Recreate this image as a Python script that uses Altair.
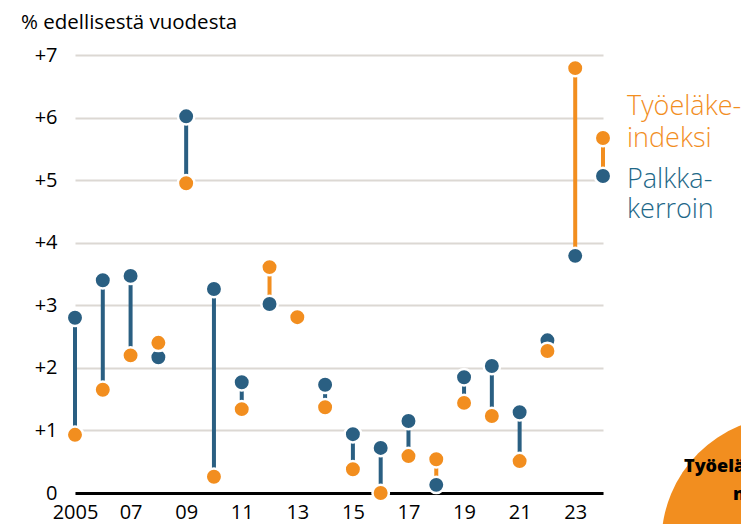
import altair as alt
import pandas as pd

years = list(range(2005, 2024))
tyoelake = [0.93, 1.65, 2.20, 2.40, 4.95, 0.26, 1.34, 3.61, 2.81, 1.37, 0.38, 0.00,
            0.59, 0.54, 1.44, 1.23, 0.51, 2.27, 6.79]
palkka = [2.80, 3.40, 3.47, 2.17, 6.02, 3.26, 1.77, 3.02, 2.81, 1.73, 0.94, 0.72,
          1.15, 0.13, 1.85, 2.03, 1.29, 2.44, 3.79]
series_names = ["Työeläkeindeksi", "Palkkakerroin"]
tick_years = list(range(2005, 2024, 2))
y_ticks = list(range(0, 8))

ORANGE = "#F28E1F"
BLUE = "#2A5F82"
TEXT_BLUE = "#1E6888"
FONT = "Open Sans"
PSIZE = 270

wide = pd.DataFrame({"year": years, "tyo": tyoelake, "palk": palkka})
wide["lo"] = wide[["tyo", "palk"]].min(axis=1)
wide["hi"] = wide[["tyo", "palk"]].max(axis=1)
wide["upper"] = [series_names[0] if t > p else series_names[1] for t, p in zip(tyoelake, palkka)]

long_blue = pd.DataFrame({"year": years, "value": palkka, "series": series_names[1]})
long_orange = pd.DataFrame({"year": years, "value": tyoelake, "series": series_names[0]})

xscale = alt.Scale(domain=[2005, 2024], nice=False, zero=False)
yscale = alt.Scale(domain=[0, 7], nice=False)
cscale = alt.Scale(domain=series_names, range=[ORANGE, BLUE])

xaxis = alt.Axis(values=tick_years, grid=False, ticks=False, domain=True,
                 domainColor="black", domainWidth=3, labelPadding=9,
                 labelFontSize=20, labelFont=FONT, labelColor="black",
                 labelOverlap=False, labelFlush=False,
                 labelExpr="datum.value == 2005 ? '2005' : slice(toString(datum.value), 2)",
                 title=None)
yaxis = alt.Axis(values=y_ticks, grid=True, gridColor="#dcd8d3", gridWidth=2,
                 ticks=False, domain=False, labelPadding=18, labelFontSize=20,
                 labelFont=FONT, labelColor="black", labelOverlap=False,
                 labelExpr="datum.value > 0 ? '+' + datum.value : '0'", title=None)

X = alt.X("year:Q", scale=xscale, axis=xaxis)

rules = alt.Chart(wide).mark_rule(strokeWidth=4).encode(
    x=X,
    y=alt.Y("lo:Q", scale=yscale, axis=yaxis),
    y2="hi:Q",
    color=alt.Color("upper:N", scale=cscale, legend=None),
)

def pts(df):
    return alt.Chart(df).mark_point(filled=True, size=PSIZE, opacity=1,
                                     stroke="white", strokeWidth=2.5, shape="circle").encode(
        x=X,
        y=alt.Y("value:Q", scale=yscale, axis=yaxis),
        fill=alt.Color("series:N", scale=cscale, legend=None),
    )

one = pd.DataFrame({"k": [0]})

def txt(s, x, y, size, color, weight="normal", align="left"):
    return alt.Chart(one).mark_text(text=s, align=align, baseline="alphabetic",
                                    fontSize=size, font=FONT, fontWeight=weight,
                                    color=color).encode(x=alt.value(x), y=alt.value(y))

title = txt("% edellisestä vuodesta", -54, -26, 20.5, "black")

leg_rule = alt.Chart(one).mark_rule(strokeWidth=4, color=ORANGE).encode(
    x=alt.value(528), y=alt.value(83), y2=alt.value(121))
leg_o = alt.Chart(one).mark_point(filled=True, size=PSIZE, opacity=1, stroke="white",
                                  strokeWidth=2.5, fill=ORANGE, shape="circle").encode(
    x=alt.value(528), y=alt.value(83))
leg_b = alt.Chart(one).mark_point(filled=True, size=PSIZE, opacity=1, stroke="white",
                                  strokeWidth=2.5, fill=BLUE, shape="circle").encode(
    x=alt.value(528), y=alt.value(121))
l1 = txt("Työeläke-", 552, 60, 27, ORANGE, weight=300)
l2 = txt("indeksi", 552, 92, 27, ORANGE, weight=300)
l3 = txt("Palkka-", 552, 133, 27, TEXT_BLUE, weight=300)
l4 = txt("kerroin", 552, 163, 27, TEXT_BLUE, weight=300)

blob = alt.Chart(one).mark_point(filled=True, opacity=1, fill=ORANGE, strokeWidth=0,
                                 shape="circle", size=63000).encode(
    x=alt.value(712), y=alt.value(487))
b1 = txt("Työeläke-", 609, 417, 18, "black", weight=800)
b2 = txt("ne", 658, 445, 18, "black", weight=800)

chart = alt.layer(
    blob, b1, b2, rules, pts(long_blue), pts(long_orange),
    leg_rule, leg_o, leg_b, l1, l2, l3, l4, title
).properties(
    width=528, height=438,
    autosize=alt.AutoSizeParams(type="none"),
    padding={"left": 67, "top": 47, "right": 138, "bottom": 31},
).configure_view(stroke=None)

chart.save("out.html", embed_options={"renderer": "svg", "actions": False})
